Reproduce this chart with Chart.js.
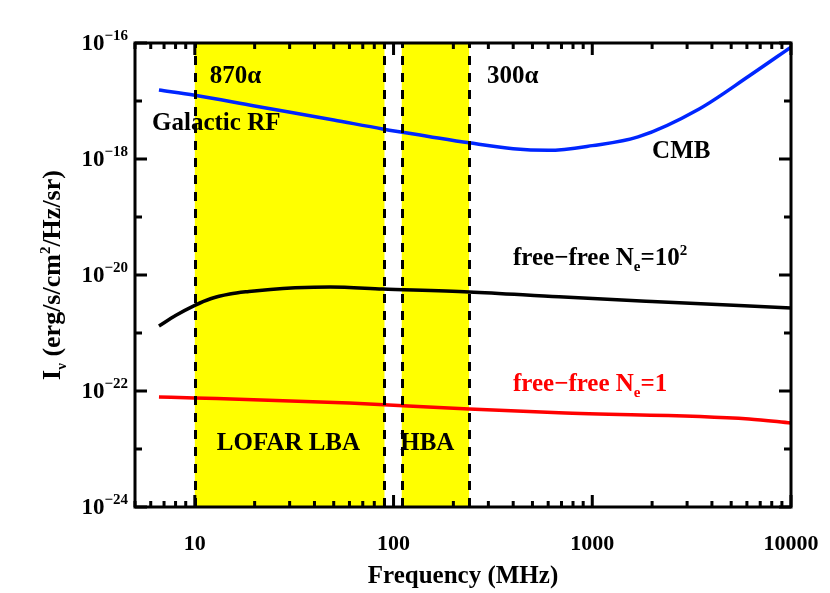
<!DOCTYPE html>
<html>
<head>
<meta charset="utf-8">
<script src="https://cdn.jsdelivr.net/npm/chart.js@4"></script>
<style>
  body { margin: 0; background: #fff; }
  #wrap { width: 830px; height: 593px; position: relative; }
</style>
</head>
<body>
<div id="wrap"><canvas id="chart"></canvas></div>
<script>
// data (MHz, erg/s/cm2/Hz/sr)
const freqGal = [6.6, 10, 20, 50, 88, 150, 240, 400, 600, 1000, 1700, 3450, 6150, 10000];
const galCmb = [1.55e-17, 1.26e-17, 8.2e-18, 4.7e-18, 3.3e-18, 2.45e-18, 1.9e-18, 1.5e-18, 1.41e-18, 1.7e-18, 2.4e-18, 7.3e-18, 2.7e-17, 8.5e-17];

const freqFF100 = [6.6, 8, 10, 12, 15, 18.7, 24, 32, 48, 88, 240, 680, 2000, 10000];
const ff100 = [1.32e-21, 2.0e-21, 3.0e-21, 3.9e-21, 4.7e-21, 5.2e-21, 5.65e-21, 6.0e-21, 6.2e-21, 5.75e-21, 5.1e-21, 4.2e-21, 3.5e-21, 2.7e-21];

const freqFF1 = [6.6, 10, 60, 240, 680, 6150, 10000];
const ff1 = [7.9e-23, 7.6e-23, 6.2e-23, 4.9e-23, 4.2e-23, 3.3e-23, 2.8e-23];

// LOFAR bands (MHz)
const bands = [[10, 90], [110, 240]];

const xTicks = [10, 100, 1000, 10000];
const yExps = [-16, -18, -20, -22, -24];

function pts(xs, ys) {
  return xs.map(function (x, i) { return { x: x, y: ys[i] }; });
}

var SERIF = '"Liberation Serif", "Times New Roman", Times, serif';

// text labels: [freq, value, pieces, colour]  piece kind: n / sub / sup
var notes = [
  [11.9, 2.04e-17, [['870\u03b1', 'n']], 'black'],
  [295, 2.04e-17, [['300\u03b1', 'n']], 'black'],
  [6.09, 3.16e-18, [['Galactic RF', 'n']], 'black'],
  [2000, 1.04e-18, [['CMB', 'n']], 'black'],
  [399, 1.48e-20, [['free\u2212free N', 'n'], ['e', 'sub'], ['=10', 'n'], ['2', 'sup']], 'black'],
  [399, 1.0e-22, [['free\u2212free N', 'n'], ['e', 'sub'], ['=1', 'n']], 'red'],
  [12.9, 9.5e-24, [['LOFAR LBA', 'n']], 'black'],
  [108, 9.5e-24, [['HBA', 'n']], 'black']
];

function drawPieces(ctx, x, y, pieces, big, small) {
  pieces.forEach(function (p) {
    var dy = 0, size = big;
    if (p[1] === 'sub') { size = small; dy = 6; }
    if (p[1] === 'sup') { size = small; dy = -10; }
    ctx.font = 'bold ' + size + 'px ' + SERIF;
    ctx.fillText(p[0], x, y + dy);
    x += ctx.measureText(p[0]).width;
  });
  return x;
}
function piecesWidth(ctx, pieces, big, small) {
  var w = 0;
  pieces.forEach(function (p) {
    var size = p[1] === 'n' ? big : small;
    ctx.font = 'bold ' + size + 'px ' + SERIF;
    w += ctx.measureText(p[0]).width;
  });
  return w;
}

var bandPlugin = {
  id: 'bands',
  beforeDatasetsDraw: function (chart) {
    var ctx = chart.ctx, a = chart.chartArea, xs = chart.scales.x;
    ctx.save();
    ctx.fillStyle = '#ffff00';
    bands.forEach(function (b) {
      var x0 = xs.getPixelForValue(b[0]), x1 = xs.getPixelForValue(b[1]);
      ctx.fillRect(x0, a.top, x1 - x0, a.bottom - a.top);
    });
    ctx.restore();
  },
  afterDatasetsDraw: function (chart) {
    var ctx = chart.ctx, a = chart.chartArea, xs = chart.scales.x, ys = chart.scales.y;
    ctx.save();
    // dashed band edges
    ctx.strokeStyle = '#000';
    ctx.lineWidth = 3;
    ctx.setLineDash([9, 8]);
    bands.forEach(function (b) {
      b.forEach(function (f) {
        var x = Math.round(xs.getPixelForValue(f)) + 0.5;
        ctx.beginPath();
        ctx.moveTo(x, a.bottom);
        ctx.lineTo(x, a.top);
        ctx.stroke();
      });
    });
    ctx.setLineDash([]);

    // frame
    ctx.lineWidth = 3;
    ctx.strokeRect(a.left, a.top, a.right - a.left, a.bottom - a.top);

    // x ticks (top and bottom)
    for (var e = 0; e <= 4; e++) {
      for (var k = 1; k <= 9; k++) {
        var f = k * Math.pow(10, e);
        if (f < 5 || f > 10000) continue;
        var x = xs.getPixelForValue(f);
        var len = k === 1 ? 12 : 6;
        ctx.beginPath();
        ctx.moveTo(x, a.bottom); ctx.lineTo(x, a.bottom - len);
        ctx.moveTo(x, a.top); ctx.lineTo(x, a.top + len);
        ctx.stroke();
      }
    }
    // y ticks (left and right)
    for (var p = -24; p <= -16; p++) {
      var y = ys.getPixelForValue(Math.pow(10, p));
      var l = (p % 2 === 0) ? 12 : 7;
      ctx.beginPath();
      ctx.moveTo(a.left, y); ctx.lineTo(a.left + l, y);
      ctx.moveTo(a.right, y); ctx.lineTo(a.right - l, y);
      ctx.stroke();
    }

    ctx.fillStyle = '#000';
    ctx.textBaseline = 'alphabetic';
    // x tick labels
    ctx.font = 'bold 22px ' + SERIF;
    ctx.textAlign = 'center';
    xTicks.forEach(function (t) {
      ctx.fillText(String(t), xs.getPixelForValue(t), a.bottom + 43);
    });
    // y tick labels 10^n
    yExps.forEach(function (n) {
      var y = ys.getPixelForValue(Math.pow(10, n));
      ctx.textAlign = 'right';
      ctx.font = 'bold 15px ' + SERIF;
      var sup = '\u2212' + String(-n);
      var right = a.left - 7;
      ctx.fillText(sup, right, y - 3);
      var sw = ctx.measureText(sup).width;
      ctx.font = 'bold 23px ' + SERIF;
      ctx.fillText('10', right - sw, y + 7);
    });

    // x title
    ctx.textAlign = 'center';
    ctx.font = 'bold 25px ' + SERIF;
    ctx.fillText('Frequency (MHz)', (a.left + a.right) / 2, a.bottom + 76);

    // y title (rotated)
    var ytitle = [['I', 'n'], ['\u03bd', 'sub'], [' (erg/s/cm', 'n'], ['2', 'sup'], ['/Hz/sr)', 'n']];
    ctx.save();
    ctx.translate(60, (a.top + a.bottom) / 2);
    ctx.rotate(-Math.PI / 2);
    ctx.textAlign = 'left';
    var tw = piecesWidth(ctx, ytitle, 26, 15);
    drawPieces(ctx, -tw / 2, 0, ytitle, 26, 15);
    ctx.restore();

    // annotations
    ctx.textAlign = 'left';
    notes.forEach(function (nt) {
      ctx.fillStyle = nt[3] === 'red' ? '#ff0000' : '#000';
      drawPieces(ctx, xs.getPixelForValue(nt[0]), ys.getPixelForValue(nt[1]), nt[2], 25, 15);
    });
    ctx.restore();
  }
};

const ctx = document.getElementById('chart');
new Chart(ctx, {
  type: 'line',
  data: {
    datasets: [{
      label: 'Galactic RF + CMB',
      data: pts(freqGal, galCmb),
      borderColor: '#0026ff',
      borderWidth: 3.5,
      pointRadius: 0,
      cubicInterpolationMode: 'monotone'
    }, {
      label: 'free-free Ne=10^2',
      data: pts(freqFF100, ff100),
      borderColor: '#000000',
      borderWidth: 3.5,
      pointRadius: 0,
      cubicInterpolationMode: 'monotone'
    }, {
      label: 'free-free Ne=1',
      data: pts(freqFF1, ff1),
      borderColor: '#ff0000',
      borderWidth: 3.5,
      pointRadius: 0,
      cubicInterpolationMode: 'monotone'
    }]
  },
  options: {
    responsive: true,
    maintainAspectRatio: false,
    animation: false,
    layout: { padding: { left: 135, right: 39, top: 43, bottom: 86 } },
    plugins: {
      legend: { display: false },
      tooltip: { enabled: false }
    },
    scales: {
      x: { type: 'logarithmic', min: 5, max: 10000, display: false },
      y: { type: 'logarithmic', min: 1e-24, max: 1e-16, display: false }
    }
  },
  plugins: [bandPlugin]
});
</script>
</body>
</html>
